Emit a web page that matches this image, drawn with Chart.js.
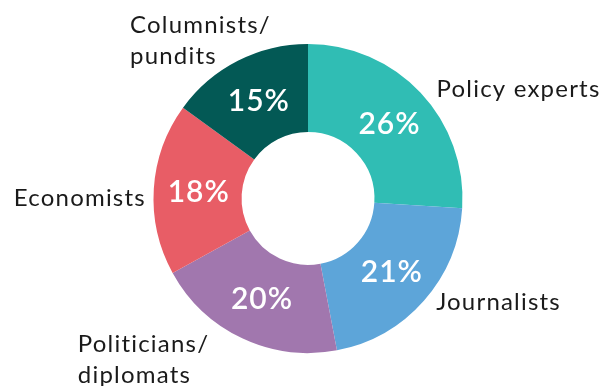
<!DOCTYPE html>
<html>
<head>
<meta charset="utf-8">
<script src="https://cdn.jsdelivr.net/npm/chart.js@4"></script>
<style>
  html, body { margin: 0; padding: 0; background: #fff; }
  canvas { display: block; }
</style>
</head>
<body>
<canvas id="chart" width="603" height="386"></canvas>
<script>
// Who gets quoted: share of sources by type
const categories = [['Policy experts'], ['Journalists'], ['Politicians/', 'diplomats'], ['Economists'], ['Columnists/', 'pundits']];
const shares = [26, 21, 20, 18, 15];
const sliceColors = ['#30BDB4', '#5DA5D9', '#A177AE', '#E85D66', '#035955'];

// where each outer label sits relative to its slice's outer anchor point
const labelLayout = [
    { align: 'left', dx: 5, dy: 15 },
    { align: 'left', dx: 1, dy: -1 },
    { align: 'left', dx: -158, dy: 0 },
    { align: 'right', dx: 7, dy: 18 },
    { align: 'left', dx: -101, dy: -14 },
];

const sliceLabels = {
    id: 'sliceLabels',
    afterDatasetsDraw(chart) {
        const ctx = chart.ctx;
        const arcs = chart.getDatasetMeta(0).data;
        ctx.save();
        arcs.forEach((arc, i) => {
            const { x, y, startAngle, endAngle, innerRadius, outerRadius } =
                arc.getProps(['x', 'y', 'startAngle', 'endAngle', 'innerRadius', 'outerRadius'], true);
            const mid = (startAngle + endAngle) / 2;

            // percentage inside the ring
            const r = (innerRadius + outerRadius) / 2;
            ctx.fillStyle = '#fff';
            ctx.font = '600 30px Lato';
            ctx.letterSpacing = '1px';
            ctx.textAlign = 'center';
            ctx.textBaseline = 'middle';
            ctx.fillText(shares[i] + '%', x + Math.cos(mid) * r + 1, y + Math.sin(mid) * r + 1);

            // category name outside the ring
            const lay = labelLayout[i];
            const ax = x + Math.cos(mid) * (outerRadius + 15) + lay.dx;
            const ay = y + Math.sin(mid) * (outerRadius + 15) + lay.dy;
            ctx.fillStyle = '#1a1a1a';
            ctx.font = '400 24px Lato';
            ctx.letterSpacing = '1.2px';
            ctx.textAlign = lay.align;
            ctx.textBaseline = 'alphabetic';
            categories[i].forEach((line, k) => ctx.fillText(line, ax, ay + k * 31));
        });
        ctx.restore();
    }
};

new Chart(document.getElementById('chart'), {
    type: 'doughnut',
    data: {
        labels: categories.map(c => c.join(' ')),
        datasets: [{
            data: shares,
            backgroundColor: sliceColors,
            borderWidth: 0,
        }],
    },
    options: {
        responsive: false,
        animation: false,
        cutout: '43%',
        layout: { padding: { left: 13, right: 0, top: 44, bottom: 33 } },
        plugins: {
            legend: { display: false },
            tooltip: { enabled: false },
        },
    },
    plugins: [sliceLabels],
});
</script>
</body>
</html>
